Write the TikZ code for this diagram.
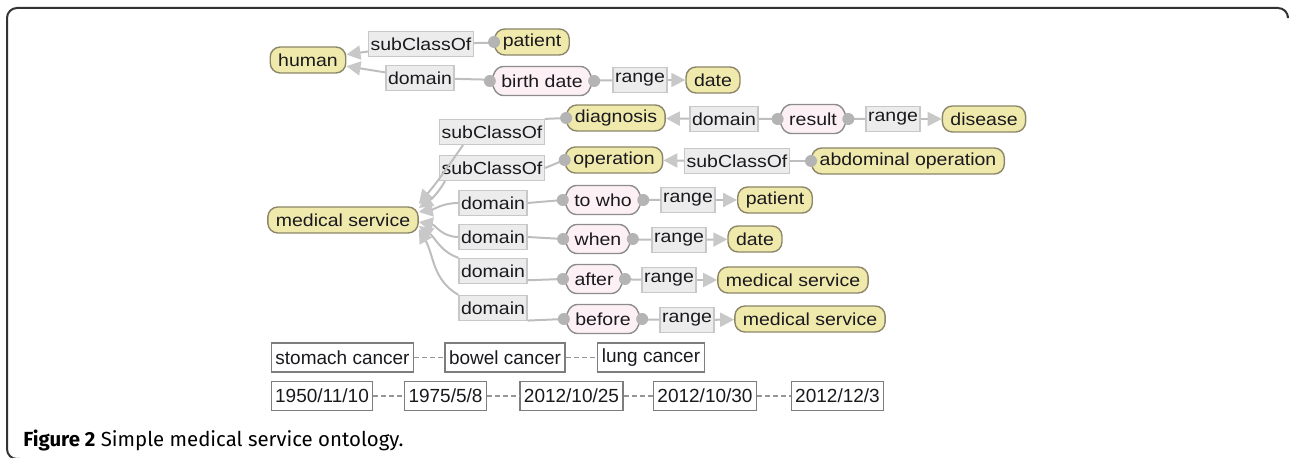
\documentclass[tikz,border=0pt]{standalone}
\usepackage{fontspec}
\setmainfont[FakeStretch=1.12]{Liberation Sans}
\newfontfamily\indfont{Liberation Sans}
\newfontfamily\capfont{Fira Sans}
\usetikzlibrary{arrows.meta,shapes.symbols}

\definecolor{clsfill}{RGB}{240,233,172}
\definecolor{clsline}{RGB}{140,134,104}
\definecolor{propfill}{RGB}{253,240,244}
\definecolor{propline}{RGB}{140,140,140}
\definecolor{lblfill}{RGB}{236,236,236}
\definecolor{lblline}{RGB}{200,200,200}
\definecolor{indline}{RGB}{125,125,125}
\definecolor{linkcol}{RGB}{150,150,150}
\definecolor{edgecol}{RGB}{190,190,190}
\definecolor{arrcol}{RGB}{200,200,200}
\definecolor{dotcol}{RGB}{180,180,180}
\definecolor{txtcol}{RGB}{25,25,30}

\tikzset{
  cls/.style={draw=clsline, fill=clsfill, rounded corners=5pt, line width=0.7pt,
    inner xsep=4pt, inner ysep=0pt, minimum height=13pt, text=txtcol},
  prop/.style={signal, signal to=west and east, signal pointer angle=130,
    draw=propline, fill=propfill, rounded corners=3pt, line width=0.7pt,
    inner xsep=2pt, inner ysep=0pt, minimum height=14.5pt, text=txtcol},
  lbl/.style={draw=lblline, fill=lblfill, line width=0.6pt,
    inner xsep=1pt, inner ysep=0pt, minimum height=12.5pt, text=txtcol},
  ind/.style={draw=indline, fill=white, line width=0.6pt,
    font=\indfont\fontsize{9.5}{11}\selectfont,
    inner xsep=2pt, inner ysep=0pt, minimum height=14.5pt, text=txtcol},
  edge/.style={draw=edgecol, line width=1pt},
  arr/.style={edge, -{Triangle[length=7pt,width=7pt,color=arrcol]}},
  link/.style={draw=linkcol, line width=0.6pt, dash pattern=on 2.5pt off 1.5pt},
}

\begin{document}
\begin{tikzpicture}[x=0.5pt, y=-0.5pt, font=\fontsize{8.7}{10}\selectfont]

\useasboundingbox (0,0) rectangle (1289,458);
\draw[line width=1pt, color=black!80, rounded corners=5pt]
  (20,459) -- (7,459) -- (7,8) -- (1288,8) -- (1288,16);

% classes
\node[cls] (human)    at (308,60)  {human};
\node[cls] (patientA) at (532,42)  {patient};
\node[cls] (dateA)    at (713,80)  {date};
\node[cls] (diag)     at (616,118) {diagnosis};
\node[cls] (disease)  at (984,119) {disease};
\node[cls] (oper)     at (614,160) {operation};
\node[cls] (abdo)     at (908,161) {abdominal operation};
\node[cls] (patientB) at (775,200) {patient};
\node[cls] (ms)       at (343,220) {medical service};
\node[cls] (dateB)    at (755,239) {date};
\node[cls] (msA)      at (793,280) {medical service};
\node[cls] (msB)      at (810,319) {medical service};

% properties
\node[prop] (bdate)  at (542,81)  {birth date};
\node[prop] (result) at (813,119) {result};
\node[prop] (towho)  at (603,200) {to who};
\node[prop] (when)   at (598,239) {when};
\node[prop] (after)  at (594,279) {after};
\node[prop] (before) at (603,319) {before};

% edge labels
\node[lbl] (scH)  at (421,44)  {subClassOf};
\node[lbl] (dH)   at (420,78)  {domain};
\node[lbl] (rBd)  at (640,80)  {range};
\node[lbl] (scA)  at (492,132) {subClassOf};
\node[lbl] (scB)  at (492,168) {subClassOf};
\node[lbl] (dDg)  at (724,119) {domain};
\node[lbl] (rRs)  at (893,119) {range};
\node[lbl] (scOp) at (737,161) {subClassOf};
\node[lbl] (dA)   at (493,203) {domain};
\node[lbl] (dB)   at (493,237) {domain};
\node[lbl] (dC)   at (493,271) {domain};
\node[lbl] (dD)   at (493,308) {domain};
\node[lbl] (rA)   at (688,200) {range};
\node[lbl] (rB)   at (679,240) {range};
\node[lbl] (rC)   at (669,280) {range};
\node[lbl] (rD)   at (687,320) {range};

% individuals
\node[ind] (i1) at (342.5,357.5) {stomach cancer};
\node[ind] (i2) at (505,357.5)   {bowel cancer};
\node[ind] (i3) at (651,357.5)   {lung cancer};
\node[ind] (j1) at (322,396)     {1950/11/10};
\node[ind] (j2) at (445.5,396)   {1975/5/8};
\node[ind] (j3) at (571.5,396)   {2012/10/25};
\node[ind] (j4) at (705,396)     {2012/10/30};
\node[ind] (j5) at (837.5,396)   {2012/12/3};

\draw[link] (i1) -- (i2) (i2) -- (i3);
\draw[link] (j1) -- (j2) (j2) -- (j3) (j3) -- (j4) (j4) -- (j5);

% top rows
\draw[edge] (patientA) -- (scH);
\draw[arr]  (scH) -- (human);
\draw[edge] (bdate) -- (dH);
\draw[arr]  (dH) -- (human);
\draw[edge] (bdate) -- (rBd);
\draw[arr]  (rBd) -- (dateA);

\draw[edge] (result) -- (dDg);
\draw[arr]  (dDg) -- (diag);
\draw[edge] (result) -- (rRs);
\draw[arr]  (rRs) -- (disease);
\draw[edge] (abdo) -- (scOp);
\draw[arr]  (scOp) -- (oper);

% into medical service
\draw[edge] (diag.west) -- (scA.north east);
\draw[edge] (oper.west) -- (scB.east);
\draw[arr] ([xshift=12pt]scA.south west) to[out=235,in=50] ([yshift=8pt]ms.east);
\draw[arr] ([xshift=3pt]scB.south west) to[out=240,in=35] ([yshift=6pt]ms.east);
\draw[edge] (dA.east) -- (towho.west);
\draw[edge] (dB.east) -- (when.west);
\draw[edge] (dC.-15) -- (after.west);
\draw[edge] (dD.-20) -- (before.west);
\draw[arr] (dA.west) to[out=180,in=10] ([yshift=4pt]ms.east);
\draw[arr] (dB.west) to[out=180,in=-10] ([yshift=-1pt]ms.east);
\draw[arr] (dC.north west) to[out=160,in=-35] ([yshift=-3pt]ms.east);
\draw[arr] (dD.north west) to[out=150,in=-60] ([yshift=-4.5pt]ms.east);
\foreach \p/\r/\c in {towho/rA/patientB, when/rB/dateB, after/rC/msA, before/rD/msB}
{
  \draw[edge] (\p) -- (\r);
  \draw[arr]  (\r) -- (\c);
}

% dots
\foreach \i in {bdate, result, towho, when, after, before}
{
  \fill[dotcol] (\i.west) circle (3pt);
  \fill[dotcol] (\i.east) circle (3pt);
}
\foreach \i in {patientA, diag, oper, abdo}
  \fill[dotcol] (\i.west) circle (3pt);

\node[anchor=base west, inner sep=0pt, font=\capfont\fontsize{10.2}{12}\selectfont] (cap) at (23,447)
  {\textbf{Figure 2} Simple medical service ontology.};

\end{tikzpicture}
\end{document}
